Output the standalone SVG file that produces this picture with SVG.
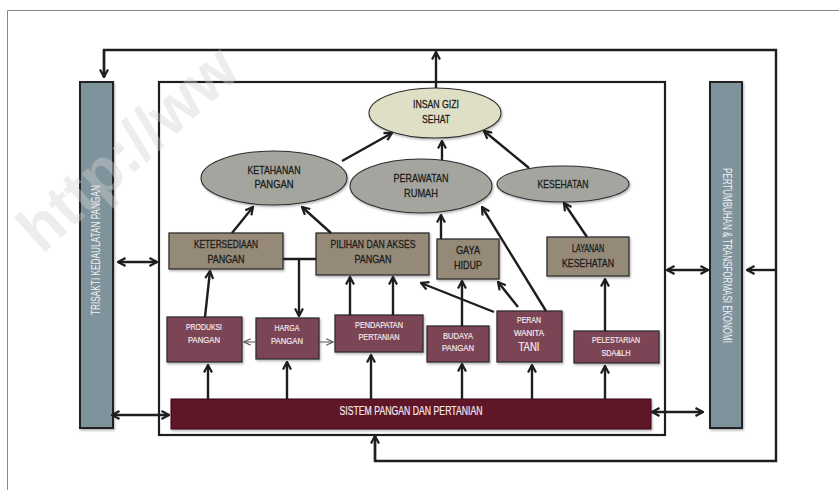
<svg xmlns="http://www.w3.org/2000/svg" width="839" height="490" viewBox="0 0 839 490">
<style>
text{font-family:"Liberation Sans",Arial,sans-serif;}
.t{fill:#1c1c1c;stroke:#1c1c1c;stroke-width:0.3;font-size:11.5px;text-anchor:middle;}
.w{fill:#f4eaee;stroke:#f4eaee;stroke-width:0.2;font-size:9.5px;text-anchor:middle;}
.tan{fill:#958a78;stroke:#2e2e2e;stroke-width:1.3;}
.mar{fill:#7c4555;stroke:#2e2e2e;stroke-width:1.3;}
.ell{fill:#a4a59e;stroke:#2e2e2e;stroke-width:1.1;}
.bar{fill:#7e939c;stroke:#222;stroke-width:2;}
.frame{fill:none;stroke:#1e1e1e;stroke-width:2.2;}
.c{fill:none;stroke:#1e1e1e;stroke-width:2.4;marker-end:url(#ah);}
.cb{fill:none;stroke:#1e1e1e;stroke-width:2.4;marker-end:url(#ah);marker-start:url(#ah);}
.thin{fill:none;stroke:#555;stroke-width:1;marker-end:url(#ahs);}
</style>
<defs>
<marker id="ah" viewBox="0 0 10 10" refX="9" refY="5" markerWidth="10" markerHeight="10" markerUnits="userSpaceOnUse" orient="auto-start-reverse">
<path d="M1.5,1 L9,5 L1.5,9" fill="none" stroke="#1e1e1e" stroke-width="2.2" stroke-linejoin="miter"/>
</marker>
<marker id="ahs" viewBox="0 0 10 10" refX="9" refY="5" markerWidth="9" markerHeight="9" markerUnits="userSpaceOnUse" orient="auto">
<path d="M1.5,1.5 L9,5 L1.5,8.5" fill="none" stroke="#555" stroke-width="1.2"/>
</marker>
<filter id="sh" x="-10%" y="-10%" width="130%" height="140%">
<feDropShadow dx="1" dy="1.5" stdDeviation="1" flood-color="#000" flood-opacity="0.3"/>
</filter>
</defs>
<rect width="839" height="490" fill="#fff"/>
<!-- page border -->
<path d="M7.5,490 V10.5 H839" fill="none" stroke="#8a8a8a" stroke-width="1"/>

<g id="frame-inner"><rect x="159" y="82" width="506" height="353" class="frame"/></g>

<g id="trisakti">
<rect x="80" y="82" width="33" height="346" class="bar" filter="url(#sh)"/>
<text transform="translate(100,250) rotate(-90)" style="fill:#eef2f4;font-size:12.5px;text-anchor:middle" textLength="130" lengthAdjust="spacingAndGlyphs">TRISAKTI KEDAULATAN PANGAN</text>
</g>
<g id="pertumbuhan">
<rect x="710" y="82" width="32" height="346" class="bar" filter="url(#sh)"/>
<text transform="translate(722.5,255.5) rotate(90)" style="fill:#eef2f4;font-size:12.5px;text-anchor:middle" textLength="175" lengthAdjust="spacingAndGlyphs">PERTUMBUHAN &amp; TRANSFORMASI EKONOMI</text>
</g>

<g id="insan">
<ellipse cx="435" cy="113" rx="66" ry="25" fill="#dfdfc6" stroke="#2e2e2e" stroke-width="1.1" filter="url(#sh)"/>
<text x="436" y="108" class="t" style="font-size:11px" textLength="46" lengthAdjust="spacingAndGlyphs">INSAN GIZI</text>
<text x="436" y="123" class="t" style="font-size:11px" textLength="28" lengthAdjust="spacingAndGlyphs">SEHAT</text>
</g>
<g id="ketahanan">
<ellipse cx="274" cy="178" rx="73" ry="27" class="ell" filter="url(#sh)"/>
<text x="274" y="174" class="t" textLength="53" lengthAdjust="spacingAndGlyphs">KETAHANAN</text>
<text x="274" y="188" class="t" textLength="39" lengthAdjust="spacingAndGlyphs">PANGAN</text>
</g>
<g id="perawatan">
<ellipse cx="421" cy="186" rx="71" ry="27" class="ell" filter="url(#sh)"/>
<text x="421" y="182" class="t" textLength="55" lengthAdjust="spacingAndGlyphs">PERAWATAN</text>
<text x="421" y="197" class="t" textLength="34" lengthAdjust="spacingAndGlyphs">RUMAH</text>
</g>
<g id="kesehatan">
<ellipse cx="563" cy="184" rx="66" ry="18" class="ell" filter="url(#sh)"/>
<text x="563" y="188" class="t" textLength="51" lengthAdjust="spacingAndGlyphs">KESEHATAN</text>
</g>

<g id="ketersediaan">
<rect x="169" y="233" width="114" height="36" class="tan" filter="url(#sh)"/>
<text x="226" y="248" class="t" textLength="64" lengthAdjust="spacingAndGlyphs">KETERSEDIAAN</text>
<text x="226" y="263" class="t" textLength="37" lengthAdjust="spacingAndGlyphs">PANGAN</text>
</g>
<g id="pilihan">
<rect x="316" y="233" width="113" height="42" class="tan" filter="url(#sh)"/>
<text x="373" y="248" class="t" textLength="85" lengthAdjust="spacingAndGlyphs">PILIHAN DAN AKSES</text>
<text x="373" y="263" class="t" textLength="37" lengthAdjust="spacingAndGlyphs">PANGAN</text>
</g>
<g id="gaya">
<rect x="437" y="239" width="62" height="40" class="tan" filter="url(#sh)"/>
<text x="468" y="254" class="t" textLength="24" lengthAdjust="spacingAndGlyphs">GAYA</text>
<text x="468" y="269" class="t" textLength="28" lengthAdjust="spacingAndGlyphs">HIDUP</text>
</g>
<g id="layanan">
<rect x="547" y="237" width="82" height="39" class="tan" filter="url(#sh)"/>
<text x="588" y="252" class="t" textLength="32" lengthAdjust="spacingAndGlyphs">LAYANAN</text>
<text x="588" y="267" class="t" textLength="52" lengthAdjust="spacingAndGlyphs">KESEHATAN</text>
</g>

<g id="produksi">
<rect x="167" y="317" width="75" height="45" class="mar" filter="url(#sh)"/>
<text x="204" y="330" class="w" textLength="36" lengthAdjust="spacingAndGlyphs">PRODUKSI</text>
<text x="204" y="343" class="w" textLength="32" lengthAdjust="spacingAndGlyphs">PANGAN</text>
</g>
<g id="harga">
<rect x="256" y="318" width="63" height="41" class="mar" filter="url(#sh)"/>
<text x="287" y="331" class="w" textLength="25" lengthAdjust="spacingAndGlyphs">HARGA</text>
<text x="287" y="344" class="w" textLength="32" lengthAdjust="spacingAndGlyphs">PANGAN</text>
</g>
<g id="pendapatan">
<rect x="335" y="315" width="88" height="37" class="mar" filter="url(#sh)"/>
<text x="379" y="328" class="w" textLength="48" lengthAdjust="spacingAndGlyphs">PENDAPATAN</text>
<text x="379" y="340" class="w" textLength="41" lengthAdjust="spacingAndGlyphs">PERTANIAN</text>
</g>
<g id="budaya">
<rect x="427" y="326" width="62" height="36" class="mar" filter="url(#sh)"/>
<text x="458" y="339" class="w" textLength="30" lengthAdjust="spacingAndGlyphs">BUDAYA</text>
<text x="458" y="351" class="w" textLength="32" lengthAdjust="spacingAndGlyphs">PANGAN</text>
</g>
<g id="peran">
<rect x="497" y="311" width="65" height="51" class="mar" filter="url(#sh)"/>
<text x="529" y="323" class="w" textLength="24" lengthAdjust="spacingAndGlyphs">PERAN</text>
<text x="529" y="336" class="w" textLength="30" lengthAdjust="spacingAndGlyphs">WANITA</text>
<text x="529" y="351" class="w" style="font-size:12px" textLength="21" lengthAdjust="spacingAndGlyphs">TANI</text>
</g>
<g id="pelestarian">
<rect x="574" y="331" width="85" height="32" class="mar" filter="url(#sh)"/>
<text x="616" y="343" class="w" textLength="48" lengthAdjust="spacingAndGlyphs">PELESTARIAN</text>
<text x="616" y="356" class="w" textLength="29" lengthAdjust="spacingAndGlyphs">SDA&amp;LH</text>
</g>
<g id="sistem">
<rect x="171" y="399" width="480" height="30" fill="#5e1328" stroke="#3a0a16" stroke-width="1" filter="url(#sh)"/>
<text x="411" y="415" style="fill:#f4eaee;stroke:#f4eaee;stroke-width:0.2;font-size:12.5px;text-anchor:middle" textLength="143" lengthAdjust="spacingAndGlyphs">SISTEM PANGAN DAN PERTANIAN</text>
</g>

<g id="connectors">
<!-- outer feedback loop -->
<path d="M375,435 V461 H776 V50 H104 V77" fill="none" stroke="#1e1e1e" stroke-width="2.4"/>
<path d="M375,461 V436" class="c"/>
<path d="M104,50 V77" class="c"/>
<path d="M436,88 V52" class="c"/>
<path d="M776,270 H747" class="c"/>
<!-- bar links -->
<path d="M118,262 H157" class="cb"/>
<path d="M112,415 H169" class="cb"/>
<path d="M667,270 H708" class="cb"/>
<path d="M652,412 H703" class="cb"/>
<!-- to insan -->
<path d="M342,161 L392,133" class="c"/>
<path d="M442,160 V141" class="c"/>
<path d="M529,168 L484,131" class="c"/>
<!-- to ellipses -->
<path d="M232,233 L253,207" class="c"/>
<path d="M331,233 L302,207" class="c"/>
<path d="M441,239 V215" class="c"/>
<path d="M546,311 L482,207" class="c"/>
<path d="M587,237 L564,203" class="c"/>
<!-- middle row -->
<path d="M283,259 H316" fill="none" stroke="#1e1e1e" stroke-width="2.4"/>
<path d="M299,259 V316" class="c"/>
<path d="M205,317 L210,271" class="c"/>
<path d="M350,315 V277" class="c"/>
<path d="M393,315 V277" class="c"/>
<path d="M462,326 V281" class="c"/>
<path d="M494,312 L421,283" class="c"/>
<path d="M518,307 L498,282" class="c"/>
<path d="M605,331 V279" class="c"/>
<!-- harga thin -->
<path d="M256,342 H244" class="thin"/>
<path d="M319,342 H333" class="thin"/>
<!-- from sistem -->
<path d="M208,399 V365" class="c"/>
<path d="M287,399 V362" class="c"/>
<path d="M371,399 V355" class="c"/>
<path d="M462,399 V364" class="c"/>
<path d="M532,399 V365" class="c"/>
<path d="M605,399 V366" class="c"/>
</g>
<!-- watermark overlay -->
<text x="42" y="255" transform="rotate(-42 42 255)" style="font-size:64px;font-weight:bold;fill:#d2d2d2;fill-opacity:0.4" textLength="270" lengthAdjust="spacingAndGlyphs">http://ww</text>
</svg>
